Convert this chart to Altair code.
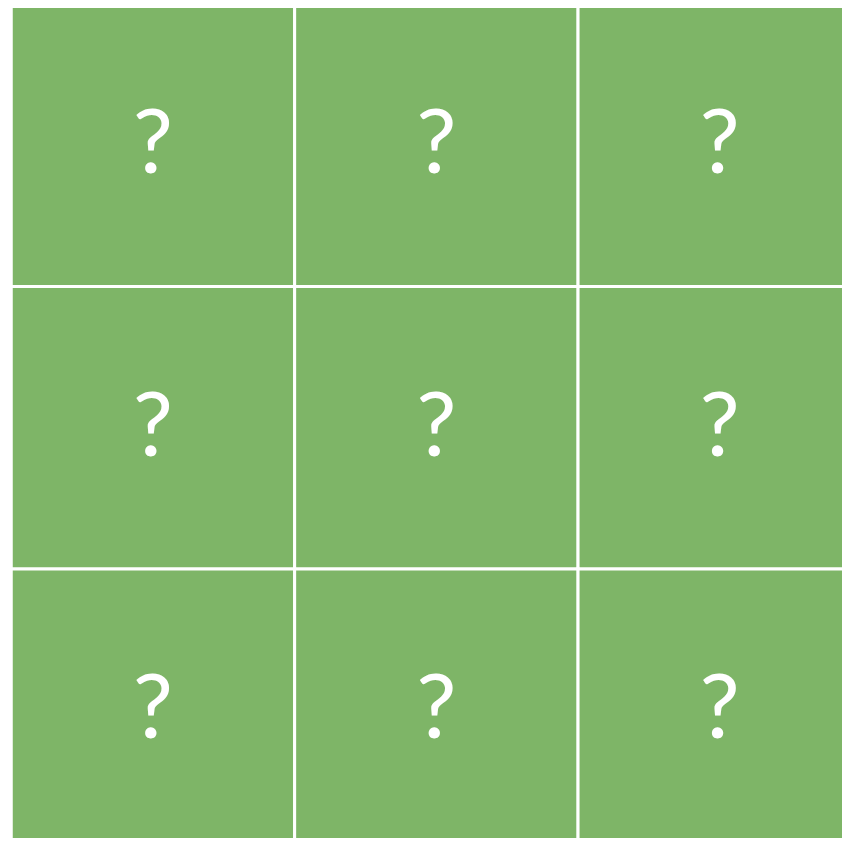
import altair as alt
import pandas as pd

cols = [0, 1, 2, 0, 1, 2, 0, 1, 2]
rows = [0, 0, 0, 1, 1, 1, 2, 2, 2]
labels = ["?"] * 9

df = pd.DataFrame({"col": cols, "row": rows, "label": labels})
df["col2"] = df["col"] + 1
df["row2"] = df["row"] + 1
df["cx"] = df["col"] + 0.5
df["cy"] = df["row"] + 0.5

# The grid is slightly cropped at the page edges, as in the reference
xs = alt.Scale(domain=[-0.0115, 2.9314], nice=False, zero=False)
ys = alt.Scale(domain=[0.0142, 2.9522], nice=False, zero=False, reverse=True)

rects = alt.Chart(df).mark_rect(
    color="#7eb567", stroke="white", strokeWidth=3, clip=True
).encode(
    x=alt.X("col:Q", scale=xs, axis=None),
    x2="col2:Q",
    y=alt.Y("row:Q", scale=ys, axis=None),
    y2="row2:Q",
)

text = alt.Chart(df).mark_text(
    font="Lato", fontSize=90, color="white", baseline="middle", align="center", dy=1
).encode(
    x=alt.X("cx:Q", scale=xs, axis=None),
    y=alt.Y("cy:Q", scale=ys, axis=None),
    text="label:N",
)

chart = (rects + text).properties(
    width=834, height=830,
    padding=0,
    autosize=alt.AutoSizeParams(type="none"),
).configure_view(stroke=None)

chart.save("out.html", embed_options={"renderer": "svg", "actions": False})
